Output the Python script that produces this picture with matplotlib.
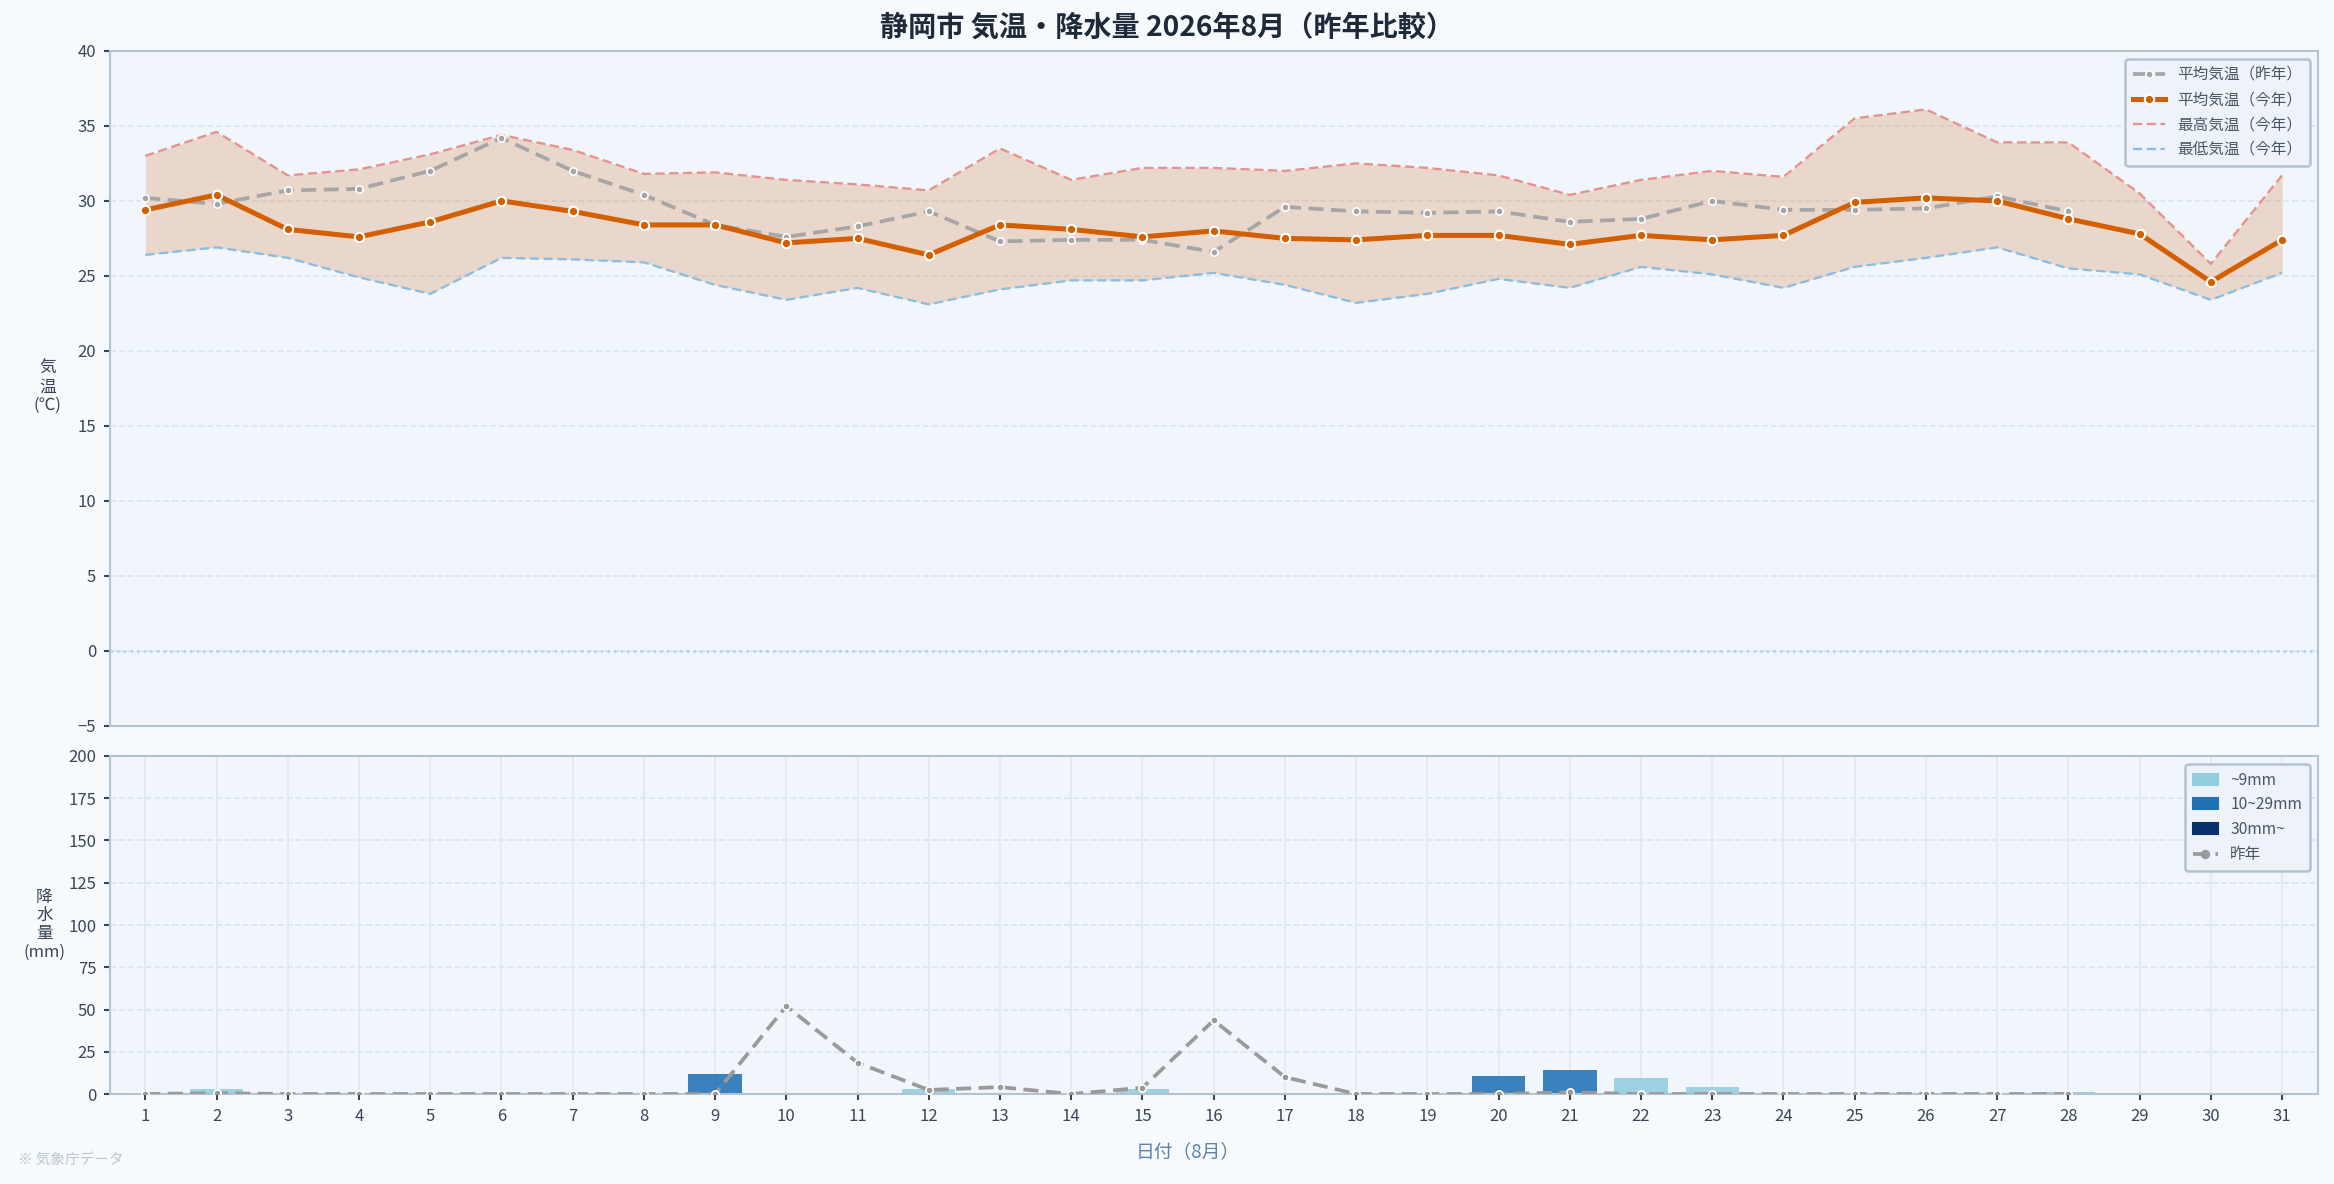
import numpy as np
import matplotlib
matplotlib.use("Agg")
import matplotlib.pyplot as plt
from matplotlib.patches import Patch
from matplotlib.lines import Line2D

plt.rcParams['font.family'] = ['Noto Sans CJK JP', 'DejaVu Sans']

days = list(range(1, 32))

# 今年 (2026年8月)
t_max = [33.0, 34.6, 31.7, 32.1, 33.1, 34.4, 33.4, 31.8, 31.9, 31.4, 31.1, 30.7, 33.5, 31.4, 32.2,
         32.2, 32.0, 32.5, 32.2, 31.7, 30.4, 31.4, 32.0, 31.6, 35.5, 36.1, 33.9, 33.9, 30.5, 25.8, 31.7]
t_min = [26.4, 26.9, 26.2, 24.9, 23.8, 26.2, 26.1, 25.9, 24.4, 23.4, 24.2, 23.1, 24.1, 24.7, 24.7,
         25.2, 24.4, 23.2, 23.8, 24.8, 24.2, 25.6, 25.1, 24.2, 25.6, 26.2, 26.9, 25.5, 25.1, 23.4, 25.2]
t_avg = [29.4, 30.4, 28.1, 27.6, 28.6, 30.0, 29.3, 28.4, 28.4, 27.2, 27.5, 26.4, 28.4, 28.1, 27.6,
         28.0, 27.5, 27.4, 27.7, 27.7, 27.1, 27.7, 27.4, 27.7, 29.9, 30.2, 30.0, 28.8, 27.8, 24.6, 27.4]
rain = [0, 2.8, 0, 0, 0, 0, 0, 0, 11.8, 0, 0, 2.8, 0, 0, 3.0,
        0, 0, 0, 0, 10.5, 14.0, 9.3, 3.9, 0, 0, 0, 0, 1.0, 0.5, 0, 0]

# 昨年 (29日以降はデータなし)
t_avg_prev = [30.2, 29.8, 30.7, 30.8, 32.0, 34.2, 32.0, 30.4, 28.4, 27.6, 28.3, 29.3, 27.3, 27.4, 27.4,
              26.6, 29.6, 29.3, 29.2, 29.3, 28.6, 28.8, 30.0, 29.4, 29.4, 29.5, 30.3, 29.3,
              np.nan, np.nan, np.nan]
rain_prev = [0, 0.5, 0, 0, 0, 0, 0, 0, 0, 52, 18.5, 2.4, 4.1, 0, 3.7,
             43.6, 10.0, 0, 0, 0, 1.0, 0, 0, 0, 0, 0, 0, 0,
             np.nan, np.nan, np.nan]

rain_labels = ['~9mm', '10~29mm', '30mm~']
rain_colors = ['#92cde0', '#2171b5', '#08306b']

bg = '#f7fafd'
ax_bg = '#f1f6fc'
spine_c = '#b3c3d1'
tick_c = '#3a4656'

fig = plt.figure(figsize=(2334 / 150, 1184 / 150), dpi=150, facecolor=bg)
ax1 = fig.add_axes([0.047, 0.387, 0.946, 0.570])
ax2 = fig.add_axes([0.047, 0.076, 0.946, 0.2855], sharex=ax1)

for ax in (ax1, ax2):
    ax.set_facecolor(ax_bg)
    for s in ax.spines.values():
        s.set_color(spine_c)
        s.set_linewidth(1.0)
    ax.tick_params(colors=tick_c, labelsize=8, length=3, width=1)
    ax.set_axisbelow(True)

# ---- 気温 ----
ax1.fill_between(days, t_min, t_max, color='#d2691e', alpha=0.22, lw=0, zorder=1)
ax1.plot(days, t_max, color='#e8908a', ls='--', lw=1.1, dashes=(4, 2), zorder=2, label='最高気温（今年）')
ax1.plot(days, t_min, color='#88bde3', ls='--', lw=1.1, dashes=(4, 2), zorder=2, label='最低気温（今年）')
ax1.plot(days, t_avg_prev, color='#a6a6a6', ls='--', lw=1.8, dashes=(4, 2), marker='o', ms=3.5,
         mfc='#a6a6a6', mec='white', mew=0.8, zorder=3, label='平均気温（昨年）')
ax1.plot(days, t_avg, color='#d35f00', lw=2.4, marker='o', ms=4.5,
         mfc='#d35f00', mec='white', mew=1.0, zorder=4, label='平均気温（今年）')
ax1.axhline(0, color='#a9d2f2', ls=':', lw=1.2, zorder=1)

ax1.set_ylim(-5, 40)
ax1.set_yticks(range(-5, 41, 5))
ax1.set_yticklabels(['−5' if v < 0 else str(v) for v in range(-5, 41, 5)])
ax1.grid(axis='y', color='#dbe5ee', ls='--', lw=0.8)
ax1.tick_params(axis='x', which='both', bottom=False, labelbottom=False)

h, l = ax1.get_legend_handles_labels()
order = [2, 3, 0, 1]
leg1 = ax1.legend([h[i] for i in order], [l[i] for i in order], loc='upper right',
                  fontsize=7.5, frameon=True, facecolor='#eef3f9', edgecolor=spine_c,
                  framealpha=1, labelcolor='#4a5666', borderpad=0.5, handlelength=2.0)
leg1.get_frame().set_linewidth(1.2)

# ---- 降水量 ----
bar_cols = [rain_colors[0] if r < 10 else (rain_colors[1] if r < 30 else rain_colors[2]) for r in rain]
ax2.bar(days, rain, width=0.75, color=bar_cols, alpha=0.88, zorder=2)
ax2.plot(days, rain_prev, color='#9a9a9a', ls='--', lw=1.8, dashes=(4, 2), marker='o', ms=3.5,
         mfc='#9a9a9a', mec='white', mew=0.8, zorder=3)

ax2.set_ylim(0, 200)
ax2.set_yticks(range(0, 201, 25))
ax2.set_xlim(0.5, 31.5)
ax2.set_xticks(days)
ax2.grid(axis='y', color='#dbe5ee', ls='--', lw=0.8)
ax2.grid(axis='x', color='#e1e8ef', ls='-', lw=0.8)

handles2 = [Patch(color=c) for c in rain_colors]
handles2.append(Line2D([], [], color='#9a9a9a', ls='--', lw=1.8, dashes=(4, 2), marker='o', ms=3.5,
                       mfc='#9a9a9a', mec='#9a9a9a'))
leg2 = ax2.legend(handles2, rain_labels + ['昨年'], loc='upper right', fontsize=7.5,
                  frameon=True, facecolor='#eef3f9', edgecolor=spine_c, framealpha=1,
                  labelcolor='#4a5666', borderpad=0.5, handlelength=1.6)
leg2.get_frame().set_linewidth(1.2)

# ---- テキスト ----
fig.text(0.5, 0.977, '静岡市 気温・降水量 2026年8月（昨年比較）', ha='center', va='center',
         fontsize=13.5, fontweight='bold', color='#1e2a3a')
fig.text(0.0205, 0.673, '気\n温\n(℃)', ha='center', va='center', fontsize=8, color='#3a4656',
         linespacing=1.1)
fig.text(0.019, 0.219, '降\n水\n量\n(mm)', ha='center', va='center', fontsize=8, color='#3a4656',
         linespacing=1.1)
fig.text(0.509, 0.027, '日付（8月）', ha='center', va='center', fontsize=9, color='#5b84a8')
fig.text(0.0075, 0.020, '※ 気象庁データ', ha='left', va='center', fontsize=7, color='#b9c6d2')

fig.savefig('out.png', dpi=150, facecolor=bg)
